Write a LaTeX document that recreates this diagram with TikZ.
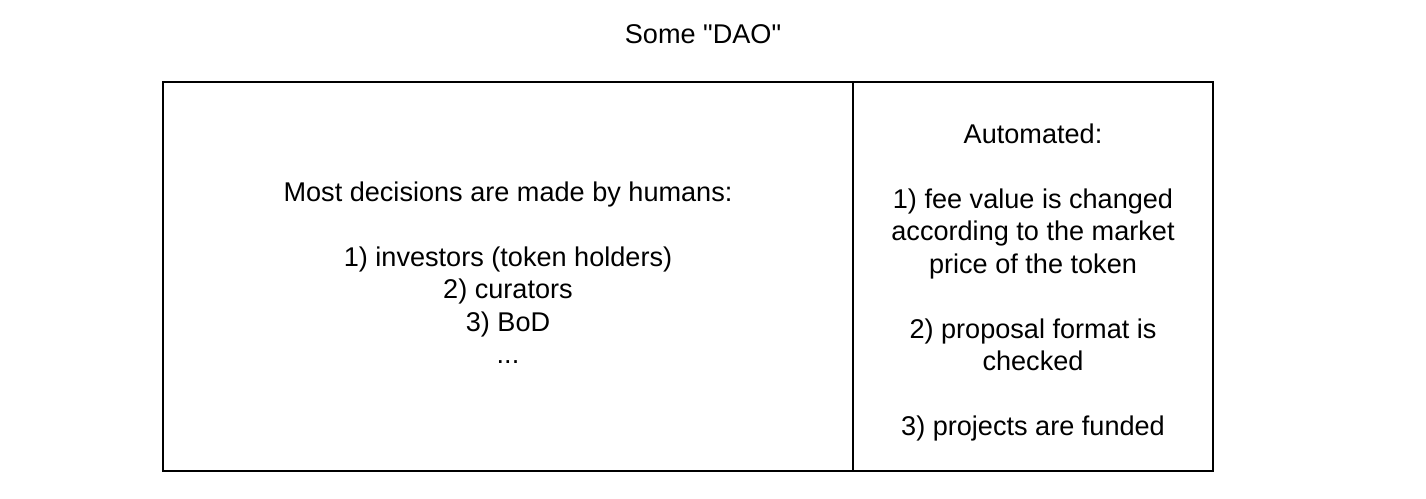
\documentclass[tikz,border=0pt]{standalone}
\usepackage{fontspec}
\setmainfont{Liberation Sans}[Ligatures=TeXOff]
\begin{document}
\begin{tikzpicture}[x=1pt,y=-1pt,
  box/.style={draw=black,line width=2.6pt,inner sep=0pt},
  txt/.style={font=\fontsize{27.1}{32.5}\selectfont,align=center,inner sep=0pt}]
\useasboundingbox (0,0) rectangle (1426,498);
\node[txt,anchor=base] (title) at (703,43) {Some "DAO"};
\node[box,minimum width=690pt,minimum height=389pt] (left) at (508,276.5) {};
\node[box,minimum width=360pt,minimum height=389pt] (right) at (1033,276.5) {};
\node[txt,anchor=north] (ltext) at (508,181.5) {Most decisions are made by humans:\\ \\1) investors (token holders)\\2) curators\\3) BoD\\...};
\node[txt,anchor=north] (rtext) at (1033,123.5) {Automated:\\ \\1) fee value is changed\\according to the market\\price of the token\\ \\2) proposal format is\\checked\\ \\3) projects are funded};
\end{tikzpicture}
\end{document}
